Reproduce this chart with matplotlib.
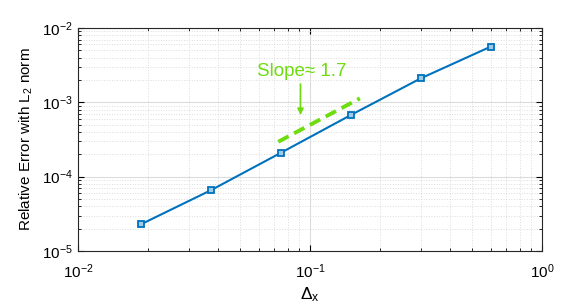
import matplotlib
matplotlib.use("Agg")
import matplotlib.pyplot as plt
import numpy as np

plt.rcParams['font.family'] = ['Liberation Sans', 'DejaVu Sans']
plt.rcParams['mathtext.fontset'] = 'custom'
plt.rcParams['mathtext.rm'] = 'Liberation Sans'
plt.rcParams['mathtext.it'] = 'Liberation Sans'

# grid spacing vs error
dx = [0.01875, 0.0375, 0.075, 0.15, 0.3, 0.6]
err = [2.3e-5, 6.6e-5, 2.1e-4, 6.75e-4, 2.1e-3, 5.6e-3]

# reference slope line
slope_x = [0.073, 0.164]
slope_y = [2.95e-4, 1.13e-3]

blue = '#0072BD'
green = '#6EDC0E'

fig = plt.figure(figsize=(5.8, 3.06), dpi=100)
ax = fig.add_axes([78/580, 1 - 251/306, (542-78)/580, (251-28)/306])

ax.loglog(dx, err, '-', color=blue, lw=1.5, marker='s', ms=4.5,
          mfc='#9ecbea', mec=blue, mew=1.3, zorder=3)
ax.loglog(slope_x, slope_y, '--', color=green, lw=2.8, dashes=(3, 1.6), zorder=3)

ax.set_xlim(1e-2, 1e0)
ax.set_ylim(1e-5, 1e-2)

ax.grid(True, which='major', color='#dcdcdc', lw=0.8, ls='-')
ax.grid(True, which='minor', color='#dcdcdc', lw=0.7, ls=':')
ax.set_axisbelow(True)

ax.tick_params(which='both', direction='in', top=True, right=True, labelsize=11)
ax.tick_params(axis='x', which='major', pad=8)
ax.tick_params(which='major', length=4)
ax.tick_params(which='minor', length=2)
for s in ax.spines.values():
    s.set_color('#262626')
    s.set_linewidth(0.8)

ax.set_xlabel(r'$\Delta_x$', fontsize=12.5, labelpad=3)
ax.set_ylabel(r'Relative Error with L$_2$ norm', fontsize=11, labelpad=5)

ax.text(0.0924, 2.56e-3, u'Slope\u2248 1.7', color=green, fontsize=13.5,
        ha='center', va='center')
ax.annotate('', xy=(0.091, 6.75e-4), xytext=(0.091, 1.76e-3),
            arrowprops=dict(arrowstyle='-|>', color=green, lw=1.2,
                            mutation_scale=9, shrinkA=0, shrinkB=0))

fig.savefig('out.png', dpi=100)
